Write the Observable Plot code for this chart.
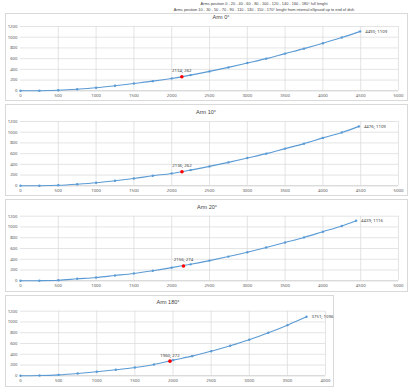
<!DOCTYPE html>
<html><head><meta charset="utf-8">
<script src="https://cdn.jsdelivr.net/npm/d3@7"></script>
<script src="https://cdn.jsdelivr.net/npm/@observablehq/plot@0.6"></script>
<style>
body{margin:0;background:#fff;font-family:"Liberation Sans",Arial,sans-serif;}
#root{position:relative;width:417px;height:389px;overflow:hidden;background:#fff;}
.box{position:absolute;border:1px solid #d9d9d9;box-sizing:border-box;}
.ttl{position:absolute;font-size:5.5px;color:#404040;white-space:nowrap;transform:translate(-50%,-50%);}
.hdr{position:absolute;font-size:3.9px;color:#404040;white-space:nowrap;transform:translate(-50%,-50%);}
.plot{position:absolute;left:0;}
</style></head><body><div id="root"></div>
<script>
const header = [
  "Arms position 0 - 20 - 40 - 60 - 80 - 100 - 120 - 140 - 160 - 180° full lenght",
  "Arms position 10 - 30 - 50 - 70 - 90 - 110 - 130 - 150 - 170° lenght from internal ellipsoid up to end of dish"
];
const titles = ["Arm 0°", "Arm 10°", "Arm 20°", "Arm 180°"];

const arm0X = [0,250,500,750,1000,1250,1500,1750,2000,2250,2500,2750,3000,3250,3500,3750,4000,4250,4493];
const arm0Y = [0,2,11,30,56,94,137,180,231,293,362,437,518,600,694,787,887,994,1109];
const arm10X = [0,250,500,750,1000,1250,1500,1750,2000,2250,2500,2750,3000,3250,3500,3750,4000,4250,4476];
const arm10Y = [0,2,10,30,56,94,137,187,231,293,362,437,518,600,694,787,894,994,1109];
const arm20X = [0,250,500,750,1000,1250,1500,1750,2000,2250,2500,2750,3000,3250,3500,3750,4000,4250,4439];
const arm20Y = [0,2,11,37,62,99,137,187,244,306,375,450,531,619,712,806,912,1018,1116];
const arm180X = [0,250,500,750,1000,1250,1500,1750,2000,2250,2500,2750,3000,3250,3500,3751];
const arm180Y = [0,5,18,43,74,111,154,210,291,365,457,557,669,799,941,1096];

const redX = [2134, 2136, 2156, 1960];
const redY = [262, 262, 274, 272];

const xMax = [5000, 5000, 5000, 4000];
const yTicks = [0,200,400,600,800,1000,1200];

const root = document.getElementById("root");
function add(cls, txt, x, y){const d=document.createElement("div");d.className=cls;d.textContent=txt;d.style.left=x+"px";d.style.top=y+"px";root.appendChild(d);}
add("hdr", header[0], 264, 3);
add("hdr", header[1], 264, 8.5);

const layout = [
  {top:13, bottom:101, right:408, y1200:26, y0:90.3, xr:398, tx:221, ty:16.5},
  {top:104, bottom:196, right:408, y1200:121, y0:185.3, xr:398, tx:206, ty:112},
  {top:199, bottom:292, right:408, y1200:215.7, y0:280.3, xr:398, tx:207, ty:207},
  {top:295, bottom:387, right:334, y1200:310.7, y0:375.3, xr:325, tx:168, ty:302}
];
const series = [[arm0X,arm0Y],[arm10X,arm10Y],[arm20X,arm20Y],[arm180X,arm180Y]];
const blue = "#5b9bd5";

layout.forEach((L, i) => {
  const b = document.createElement("div");
  b.className = "box";
  b.style.left = "5px"; b.style.top = L.top + "px";
  b.style.width = (L.right - 5) + "px"; b.style.height = (L.bottom - L.top) + "px";
  root.appendChild(b);
  add("ttl", titles[i], L.tx, L.ty);
  const [xs, ys] = series[i];
  const data = xs.map((x, k) => ({x, y: ys[k]}));
  const last = data[data.length - 1];
  const red = [{x: redX[i], y: redY[i]}];
  const H = L.bottom - L.top;
  const xt = d3.range(0, xMax[i] + 1, 500);
  const p = Plot.plot({
    width: 417, height: H,
    marginLeft: 20, marginRight: 417 - L.xr,
    marginTop: L.y1200 - L.top, marginBottom: L.bottom - L.y0,
    style: {background: "transparent", overflow: "visible", fontSize: "4.3px", color: "#595959"},
    x: {domain: [0, xMax[i]], ticks: xt, label: null},
    y: {domain: [0, 1200], ticks: yTicks, label: null},
    marks: [
      Plot.ruleY(yTicks.slice(1), {stroke: "#d9d9d9", strokeWidth: 0.7}),
      Plot.ruleX(xt.slice(1), {stroke: "#d9d9d9", strokeWidth: 0.7}),
      Plot.ruleY([0], {stroke: "#bfbfbf", strokeWidth: 0.8}),
      Plot.axisX({ticks: xt, tickSize: 0, tickPadding: 3.5, label: null, tickFormat: d => String(d), fill: "#595959", fontSize: 4.3}),
      Plot.axisY({ticks: yTicks, tickSize: 0, tickPadding: 3, label: null, tickFormat: d => String(d), fill: "#595959", fontSize: 4.3}),
      Plot.line(data, {x: "x", y: "y", stroke: blue, strokeWidth: 1.1, curve: "catmull-rom"}),
      Plot.dot(data, {x: "x", y: "y", r: 1.2, fill: blue, stroke: null}),
      Plot.dot(red, {x: "x", y: "y", r: 1.8, fill: "#ff0000", stroke: null}),
      Plot.text(red, {x: "x", y: "y", text: d => `${d.x}; ${d.y}`, dy: -6, fontSize: 4.3, fill: "#404040"}),
      Plot.text([last], {x: "x", y: "y", text: d => `${d.x}; ${d.y}`, dx: 5, textAnchor: "start", fontSize: 4.3, fill: "#404040"})
    ]
  });
  p.classList.add("plot");
  p.style.position = "absolute";
  p.style.top = L.top + "px";
  root.appendChild(p);
});
</script></body></html>
